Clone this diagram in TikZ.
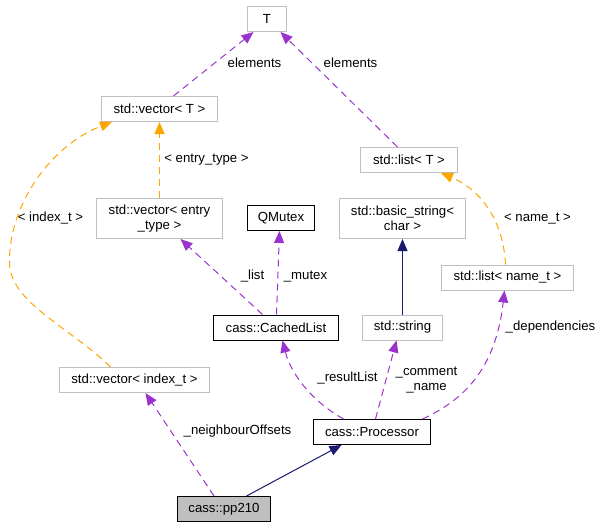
\documentclass[tikz,border=0pt]{standalone}
\usepackage{fontspec}
\setmainfont{Liberation Sans}
\usetikzlibrary{arrows.meta}
\definecolor{UseClr}{rgb}{0.604,0.196,0.804}
\definecolor{TmplClr}{rgb}{1,0.647,0}
\definecolor{InhClr}{rgb}{0.098,0.098,0.439}
\definecolor{BoxClr}{rgb}{0.75,0.75,0.75}

\begin{document}
\begin{tikzpicture}[x=1pt,y=-1pt,
  font=\fontsize{13.2}{14.5}\selectfont,
  cls/.style={draw=black,line width=1pt,minimum height=25pt,inner sep=0pt,align=center},
  ext/.style={cls,draw=BoxClr},
  usage/.style={UseClr,line width=1pt,dash pattern=on 7pt off 5pt,-{Triangle[length=12pt,width=10pt]}},
  tmpl/.style={usage,TmplClr},
  inh/.style={InhClr,line width=1pt,-{Triangle[length=12pt,width=10pt]}},
  lbl/.style={inner sep=0pt}]
\useasboundingbox (0,0) rectangle (600,528);

\begin{scope}[shift={(0.5,0.5)}]
% classes
\node[ext,minimum width=39pt]  (T)     at (266.5,18.5) {T};
\node[ext,minimum width=116pt] (vT)    at (159,108.5)  {std::vector< T >};
\node[ext,minimum width=97pt]  (lT)    at (408.5,159.5) {std::list< T >};
\node[ext,minimum width=126pt,minimum height=40pt] (vE) at (159,218) {std::vector< entry\\\_type >};
\node[cls,minimum width=67pt]  (QM)    at (280.5,217.5) {QMutex};
\node[ext,minimum width=126pt,minimum height=40pt] (bS) at (402,218) {std::basic\_string<\\char >};
\node[ext,minimum width=132pt] (nameT) at (507,277)    {std::list< name\_t >};
\node[cls,minimum width=125pt] (cL)    at (275.5,327)  {cass::CachedList};
\node[ext,minimum width=80pt]  (sS)    at (402,327)    {std::string};
\node[ext,minimum width=150pt] (idx)   at (134,379.5)  {std::vector< index\_t >};
\node[cls,minimum width=117pt] (Pr)    at (371.5,431.5) {cass::Processor};
\node[cls,fill=BoxClr,minimum width=93pt] (pp) at (223.5,508.5) {cass::pp210};

% connectors
\draw[usage] ([xshift=14pt]vT.north) -- ([xshift=-13.5pt]T.south);
\draw[usage] ([xshift=-11.5pt]lT.north) -- ([xshift=13.5pt]T.south);
\draw[tmpl] (vE.north) -- (vT.south);
\draw[tmpl] ([xshift=-24pt]idx.north) .. controls (70,327) and (9,302) .. (9,262)
  .. controls (8,205) and (50,145) .. ([xshift=11pt]vT.south west);
\draw[tmpl] ([xshift=-2pt]nameT.north) .. controls (503,222) and (482,190) .. ([xshift=32pt]lT.south);
\draw[usage] ([xshift=-13.5pt]cL.north) -- ([xshift=21pt]vE.south);
\draw[usage] ([xshift=0.5pt]cL.north) -- ([xshift=-1.5pt]QM.south);
\draw[inh] (sS.north) -- (bS.south);
\draw[usage] ([xshift=-28.5pt]Pr.north) .. controls (310,400) and (290,372) .. ([xshift=6.5pt]cL.south);
\draw[usage] ([xshift=3.5pt]Pr.north) -- ([xshift=-6pt]sS.south);
\draw[usage] ([xshift=50.5pt]Pr.north) .. controls (462,400) and (495,370) .. ([xshift=-3pt]nameT.south);
\draw[usage] ([xshift=-10pt]pp.north) -- ([xshift=11pt]idx.south);
\draw[inh] ([xshift=22.5pt]pp.north) -- ([xshift=-30.5pt]Pr.south);

% labels
\node[lbl] (lbElemA) at (254,62)  {elements};
\node[lbl] (lbElemB) at (350,62)  {elements};
\node[lbl] (lbEntry) at (206,159) {< entry\_type >};
\node[lbl] (lbIndex) at (50,218)  {< index\_t >};
\node[lbl] (lbName)  at (537,218) {< name\_t >};
\node[lbl] (lbList)  at (252,276) {\_list};
\node[lbl] (lbMutex) at (305,276) {\_mutex};
\node[lbl,align=center] (lbCmt) at (426,379.5) {\_comment\\\_name};
\node[lbl] (lbRes)   at (347,378) {\_resultList};
\node[lbl] (lbDeps)  at (550,327) {\_dependencies};
\node[lbl] (lbNbr)   at (237,431) {\_neighbourOffsets};
\end{scope}

\end{tikzpicture}
\end{document}
